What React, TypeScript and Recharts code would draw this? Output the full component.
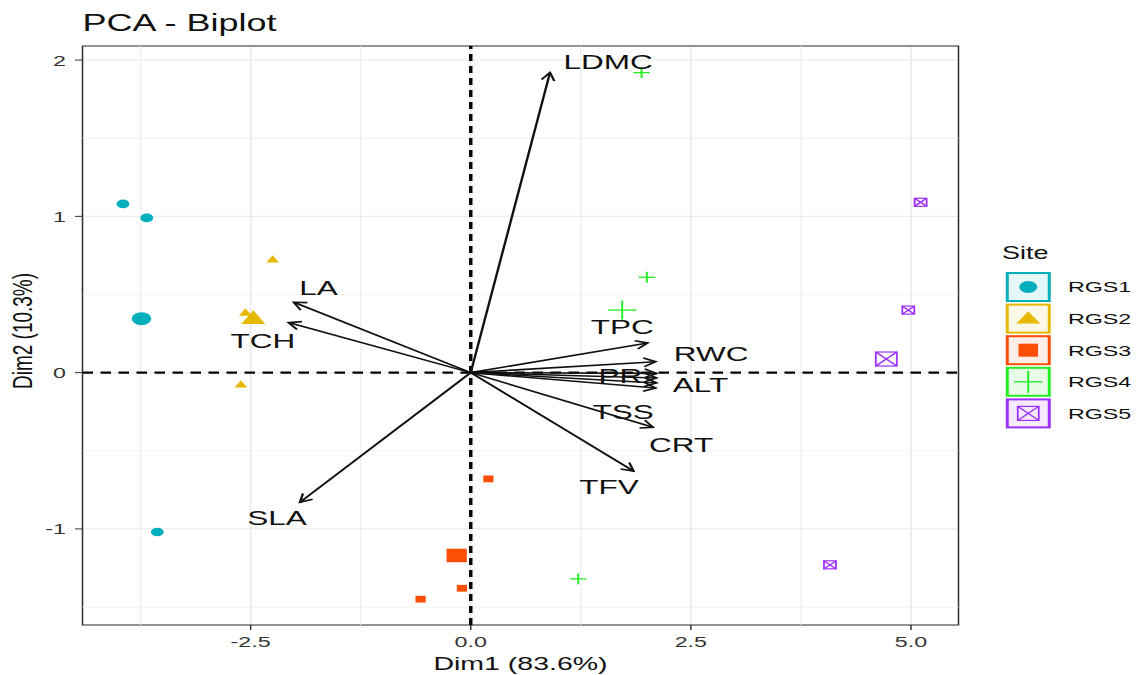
import React from 'react'
import { ScatterChart, Scatter, XAxis, YAxis, CartesianGrid, ReferenceLine, ReferenceArea, Label } from 'recharts'

// the reference is a ggplot export stretched sideways, so we draw narrow and scale x
const STRETCH = 1.5
const W = 758
const H = 675
const FONT = '"Liberation Sans", Arial, sans-serif'

const X_DOMAIN = [-4.41, 5.54]
const Y_DOMAIN = [-1.615, 2.09]
const X_TICKS = [-2.5, 0, 2.5, 5]
const Y_TICKS = [-1, 0, 1, 2]
const X_MINOR = [-3.75, -1.25, 1.25, 3.75]
const Y_MINOR = [-1.5, -0.5, 0.5, 1.5]

const SITES = ['RGS1', 'RGS2', 'RGS3', 'RGS4', 'RGS5']
const SITE_COLORS = ['#00AFBB', '#E7B800', '#FC4E07', '#22EE22', '#9B30FF']

const rgs1 = [{ x: -3.95, y: 1.08 }, { x: -3.68, y: 0.99 }, { x: -3.56, y: -1.02 }]
const rgs1Mean = [{ x: -3.74, y: 0.345 }]
const rgs2 = [{ x: -2.25, y: 0.72 }, { x: -2.56, y: 0.38 }, { x: -2.61, y: -0.08 }]
const rgs2Mean = [{ x: -2.47, y: 0.34 }]
const rgs3 = [{ x: 0.2, y: -0.68 }, { x: -0.1, y: -1.38 }, { x: -0.57, y: -1.45 }]
const rgs3Mean = [{ x: -0.16, y: -1.17 }]
const rgs4 = [{ x: 1.94, y: 1.92 }, { x: 2.0, y: 0.61 }, { x: 1.22, y: -1.32 }]
const rgs4Mean = [{ x: 1.72, y: 0.4 }]
const rgs5 = [{ x: 5.11, y: 1.09 }, { x: 4.97, y: 0.4 }, { x: 4.08, y: -1.23 }]
const rgs5Mean = [{ x: 4.72, y: 0.087 }]

// variable loadings (arrow tips)
const varNames = ['LDMC', 'LA', 'TCH', 'SLA', 'TPC', 'RWC', 'PR', 'PR2', 'ALT', 'CRT', 'TSS', 'TFV']
const varX = [0.9, -2.01, -2.07, -1.94, 2.01, 2.1, 2.11, 2.11, 2.11, 2.1, 2.07, 1.85]
const varY = [1.92, 0.45, 0.32, -0.83, 0.19, 0.07, -0.005, -0.034, -0.066, -0.098, -0.35, -0.63]

// where the variable names sit
const labelNames = ['LDMC', 'LA', 'TCH', 'SLA', 'TPC', 'RWC', 'PR', 'ALT', 'TSS', 'CRT', 'TFV']
const labelX = [1.56, -1.73, -2.36, -2.2, 1.72, 2.73, 1.7, 2.61, 1.73, 2.39, 1.57]
const labelY = [1.99, 0.54, 0.2, -0.93, 0.29, 0.12, -0.02, -0.077, -0.25, -0.46, -0.73]

const labels = labelNames.map((name, i) => ({ name, x: labelX[i], y: labelY[i] }))

function dot(color: string, r: number) {
  return (p: any) => <circle cx={p.cx} cy={p.cy} r={r} fill={color} />
}

function tri(color: string, w: number) {
  return (p: any) => {
    const h = w * 0.866
    return (
      <polygon
        points={`${p.cx - w / 2},${p.cy + h / 3} ${p.cx + w / 2},${p.cy + h / 3} ${p.cx},${p.cy - (2 * h) / 3}`}
        fill={color}
      />
    )
  }
}

function sq(color: string, s: number) {
  return (p: any) => <rect x={p.cx - s / 2} y={p.cy - s / 2} width={s} height={s} fill={color} />
}

function plus(color: string, s: number) {
  return (p: any) => (
    <g stroke={color} strokeWidth={1.3}>
      <line x1={p.cx - s / 2} y1={p.cy} x2={p.cx + s / 2} y2={p.cy} />
      <line x1={p.cx} y1={p.cy - s / 2} x2={p.cx} y2={p.cy + s / 2} />
    </g>
  )
}

function boxX(color: string, s: number) {
  return (p: any) => {
    const h = s / 2
    return (
      <g stroke={color} strokeWidth={1.2} fill="none">
        <rect x={p.cx - h} y={p.cy - h} width={s} height={s} />
        <line x1={p.cx - h} y1={p.cy - h} x2={p.cx + h} y2={p.cy + h} />
        <line x1={p.cx - h} y1={p.cy + h} x2={p.cx + h} y2={p.cy - h} />
      </g>
    )
  }
}

function Arrow(p: any) {
  const { x1, y1, x2, y2 } = p
  const a = Math.atan2(y2 - y1, x2 - x1)
  const len = 9
  const spread = 0.5
  const ax = x2 - len * Math.cos(a - spread)
  const ay = y2 - len * Math.sin(a - spread)
  const bx = x2 - len * Math.cos(a + spread)
  const by = y2 - len * Math.sin(a + spread)
  return (
    <g stroke="#111" strokeWidth={1.6} fill="none">
      <line x1={x1} y1={y1} x2={x2} y2={y2} />
      <polyline points={`${ax},${ay} ${x2},${y2} ${bx},${by}`} />
    </g>
  )
}

function VarLabel(p: any) {
  return (
    <text x={p.cx} y={p.cy} textAnchor="middle" dominantBaseline="central" fontSize={21} fill="#111" fontFamily={FONT}>
      {p.payload.name}
    </text>
  )
}

function LegendKey({ i }: { i: number }) {
  const c = SITE_COLORS[i]
  const glyphs = [
    <circle cx={15} cy={15} r={6} fill={c} />,
    <polygon points="7,20 23,20 15,8" fill={c} />,
    <rect x={8.5} y={8.5} width={13} height={13} fill={c} />,
    <g stroke={c} strokeWidth={1.3}>
      <line x1={5.5} y1={15} x2={24.5} y2={15} />
      <line x1={15} y1={4} x2={15} y2={26} />
    </g>,
    <g stroke={c} strokeWidth={1.2} fill="none">
      <rect x={8} y={8} width={14} height={14} />
      <line x1={8} y1={8} x2={22} y2={22} />
      <line x1={8} y1={22} x2={22} y2={8} />
    </g>,
  ]
  return (
    <g>
      <rect x={1} y={1} width={28} height={28} fill={c} fillOpacity={0.1} stroke={c} strokeWidth={2} />
      {glyphs[i]}
    </g>
  )
}

export default function App() {
  return (
    <div style={{ position: 'absolute', left: 0, top: 0, width: 1137, height: 675, overflow: 'hidden', background: '#fff' }}>
      <div style={{ position: 'absolute', left: 0, top: 0, width: W, height: H, transform: `scaleX(${STRETCH})`, transformOrigin: '0 0' }}>
        <ScatterChart width={W} height={H} margin={{ top: 46, right: 119, bottom: 0, left: 0 }} style={{ fontFamily: FONT }}>
          <CartesianGrid stroke="#EBEBEB" strokeWidth={1.2} />
          {X_MINOR.map(v => (
            <ReferenceLine key={'xm' + v} x={v} stroke="#EBEBEB" strokeWidth={0.7} />
          ))}
          {Y_MINOR.map(v => (
            <ReferenceLine key={'ym' + v} y={v} stroke="#EBEBEB" strokeWidth={0.7} />
          ))}
          <XAxis
            type="number"
            dataKey="x"
            domain={X_DOMAIN}
            ticks={X_TICKS}
            allowDataOverflow
            height={50}
            tickSize={5}
            tickMargin={6}
            axisLine={false}
            tickLine={{ stroke: '#333' }}
            tickFormatter={(v: number) => v.toFixed(1)}
            tick={{ fontSize: 15.5, fill: '#333' }}
          >
            <Label value="Dim1 (83.6%)" position="insideBottom" offset={5} fontSize={19} fill="#111" />
          </XAxis>
          <YAxis
            type="number"
            dataKey="y"
            domain={Y_DOMAIN}
            ticks={Y_TICKS}
            allowDataOverflow
            width={55}
            tickSize={5}
            tickMargin={6}
            axisLine={false}
            tickLine={{ stroke: '#333' }}
            tick={{ fontSize: 15.5, fill: '#333' }}
          >
            <Label
              content={() => (
                <text x={15} y={331} transform="rotate(-90 15 331)" textAnchor="middle" dominantBaseline="central" fontSize={19} fill="#111" fontFamily={FONT}>
                  Dim2 (10.3%)
                </text>
              )}
            />
          </YAxis>
          <ReferenceLine x={0} stroke="#000" strokeWidth={2.3} strokeDasharray="7 5" />
          <ReferenceLine y={0} stroke="#000" strokeWidth={2.3} strokeDasharray="7 5" />
          <ReferenceArea x1={X_DOMAIN[0]} x2={X_DOMAIN[1]} y1={Y_DOMAIN[0]} y2={Y_DOMAIN[1]} fill="none" stroke="#333" strokeWidth={1} fillOpacity={0} />

          <Scatter data={rgs1} shape={dot(SITE_COLORS[0], 4.3)} isAnimationActive={false} />
          <Scatter data={rgs1Mean} shape={dot(SITE_COLORS[0], 6.5)} isAnimationActive={false} />
          <Scatter data={rgs2} shape={tri(SITE_COLORS[1], 8.5)} isAnimationActive={false} />
          <Scatter data={rgs2Mean} shape={tri(SITE_COLORS[1], 16)} isAnimationActive={false} />
          <Scatter data={rgs3} shape={sq(SITE_COLORS[2], 6.8)} isAnimationActive={false} />
          <Scatter data={rgs3Mean} shape={sq(SITE_COLORS[2], 13.5)} isAnimationActive={false} />
          <Scatter data={rgs4} shape={plus(SITE_COLORS[3], 11)} isAnimationActive={false} />
          <Scatter data={rgs4Mean} shape={plus(SITE_COLORS[3], 19)} isAnimationActive={false} />
          <Scatter data={rgs5} shape={boxX(SITE_COLORS[4], 8)} isAnimationActive={false} />
          <Scatter data={rgs5Mean} shape={boxX(SITE_COLORS[4], 14)} isAnimationActive={false} />

          {varNames.map((n, i) => (
            <ReferenceLine
              key={n}
              segment={[{ x: 0, y: 0 }, { x: varX[i], y: varY[i] }]}
              shape={Arrow}
              ifOverflow="visible"
            />
          ))}
          <Scatter data={labels} shape={VarLabel} isAnimationActive={false} />
        </ScatterChart>

        <svg width={W} height={H} style={{ position: 'absolute', left: 0, top: 0, pointerEvents: 'none' }} fontFamily={FONT}>
          <text x={55} y={31.5} fontSize={24} fill="#111">PCA - Biplot</text>
          <text x={668} y={259} fontSize={18} fill="#111">Site</text>
          {SITES.map((s, i) => (
            <g key={s} transform={`translate(670.5, ${272 + i * 31.6})`}>
              <LegendKey i={i} />
              <text x={41.5} y={15} dominantBaseline="central" fontSize={15.5} fill="#111">{s}</text>
            </g>
          ))}
        </svg>
      </div>
    </div>
  )
}
